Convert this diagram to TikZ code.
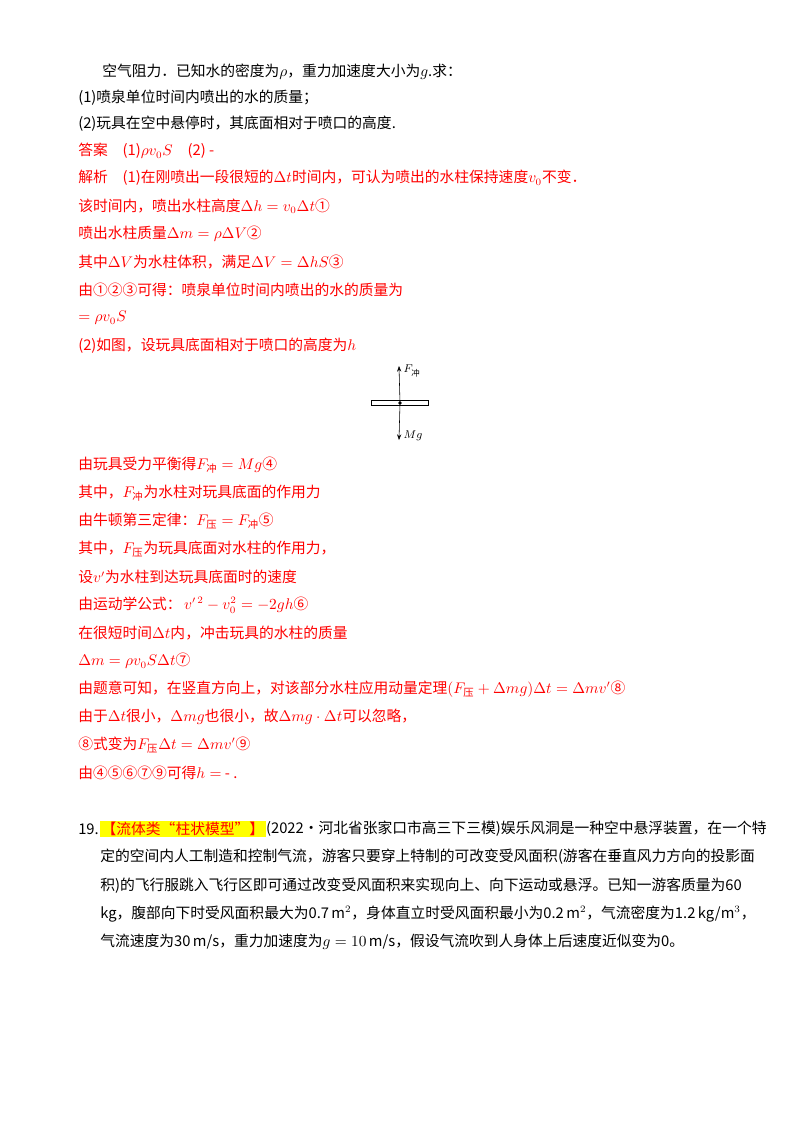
\documentclass[tikz,border=0pt]{standalone}
\usepackage{amsmath}
\usepackage{fontspec}
\setmainfont{Noto Sans CJK SC}
\usetikzlibrary{arrows.meta}
\definecolor{ansred}{RGB}{255,0,0}
\definecolor{hlyellow}{RGB}{255,255,0}
\tikzset{
  txt/.style={anchor=west, inner sep=0pt, font=\fontsize{10.5pt}{12pt}\selectfont},
  ans/.style={txt, text=ansred},
  force/.style={-{Stealth[length=4pt]}, thin}
}
\begin{document}
\begin{tikzpicture}[x=0.025cm, y=-0.025cm]
  \useasboundingbox (0,0) rectangle (800,1132);
  % question
  \node[txt] (q0) at (102,72) {空气阻力．已知水的密度为$\rho$，重力加速度大小为$g$.求：};
  \node[txt] (q1) at (78,98) {(1)喷泉单位时间内喷出的水的质量；};
  \node[txt] (q2) at (78,124) {(2)玩具在空中悬停时，其底面相对于喷口的高度.};
  % answer part 1
  \node[ans] (a0) at (78,151) {答案\quad (1)$\rho v_0S$\quad (2) -};
  \node[ans] (a1) at (78,178) {解析\quad (1)在刚喷出一段很短的$\Delta t$时间内，可认为喷出的水柱保持速度$v_0$不变．};
  \node[ans] (a2) at (78,206) {该时间内，喷出水柱高度$\Delta h=v_0\Delta t$①};
  \node[ans] (a3) at (78,234) {喷出水柱质量$\Delta m=\rho\Delta V$②};
  \node[ans] (a4) at (78,262) {其中$\Delta V$为水柱体积，满足$\Delta V=\Delta hS$③};
  \node[ans] (a5) at (78,290) {由①②③可得：喷泉单位时间内喷出的水的质量为};
  \node[ans] (a6) at (78,318) {$=\rho v_0S$};
  \node[ans] (a7) at (78,346) {(2)如图，设玩具底面相对于喷口的高度为$h$};
  % force diagram
  \node[draw, inner sep=0pt, minimum width=57*0.025cm, minimum height=5*0.025cm] (plate) at (400,403) {};
  \fill (plate.center) circle (1.8*0.025cm);
  \coordinate (top) at (399,366);
  \coordinate (bot) at (399,440);
  \draw[force] (plate.center) -- (top);
  \draw[force] (plate.center) -- (bot);
  \node[anchor=west, inner sep=1pt, font=\footnotesize] (fup) at (402,371) {$F_{\text{冲}}$};
  \node[anchor=west, inner sep=1pt, font=\footnotesize] (fdn) at (402,436) {$Mg$};
  % answer part 2
  \node[ans] (b0) at (78,465) {由玩具受力平衡得$F_{\text{冲}}=Mg$④};
  \node[ans] (b1) at (78,493) {其中，$F_{\text{冲}}$为水柱对玩具底面的作用力};
  \node[ans] (b2) at (78,521) {由牛顿第三定律：$F_{\text{压}}=F_{\text{冲}}$⑤};
  \node[ans] (b3) at (78,549) {其中，$F_{\text{压}}$为玩具底面对水柱的作用力，};
  \node[ans] (b4) at (78,577) {设$v'$为水柱到达玩具底面时的速度};
  \node[ans] (b5) at (78,605) {由运动学公式：\,$v'^{\,2}-v_0^2=-2gh$⑥};
  \node[ans] (b6) at (78,633) {在很短时间$\Delta t$内，冲击玩具的水柱的质量};
  \node[ans] (b7) at (78,661) {$\Delta m=\rho v_0S\Delta t$⑦};
  \node[ans] (b8) at (78,689) {由题意可知，在竖直方向上，对该部分水柱应用动量定理$(F_{\text{压}}+\Delta mg)\Delta t=\Delta mv'$⑧};
  \node[ans] (b9) at (78,717) {由于$\Delta t$很小，$\Delta mg$也很小，故$\Delta mg\cdot\Delta t$可以忽略，};
  \node[ans] (b10) at (78,745) {⑧式变为$F_{\text{压}}\Delta t=\Delta mv'$⑨};
  \node[ans] (b11) at (78,773) {由④⑤⑥⑦⑨可得$h=$ - .};
  % problem 19
  \node[txt] (n19) at (78,829) {19.};
  \node[txt, fill=hlyellow, text=ansred, inner sep=1pt] (tag) at (100,829) {【流体类“柱状模型”】};
  \node[txt] (p0) at (tag.east) {(2022·河北省张家口市高三下三模)娱乐风洞是一种空中悬浮装置，在一个特};
  \node[txt] (p1) at (100,857) {定的空间内人工制造和控制气流，游客只要穿上特制的可改变受风面积(游客在垂直风力方向的投影面};
  \node[txt] (p2) at (100,886) {积)的飞行服跳入飞行区即可通过改变受风面积来实现向上、向下运动或悬浮。已知一游客质量为60};
  \node[txt] (p3) at (100,914) {kg，腹部向下时受风面积最大为0.7\,m$^2$，身体直立时受风面积最小为0.2\,m$^2$，气流密度为1.2\,kg/m$^3$，};
  \node[txt] (p4) at (100,942) {气流速度为30\,m/s，重力加速度为$g=10$\,m/s，假设气流吹到人身体上后速度近似变为0。};
\end{tikzpicture}
\end{document}
